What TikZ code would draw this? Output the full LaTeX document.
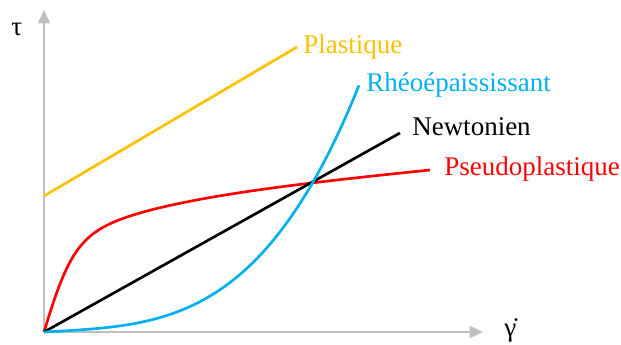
\documentclass[tikz,border=0pt]{standalone}
\usepackage{fontspec}
\setmainfont{LiberationSerif}[Extension=.ttf,UprightFont=*-Regular,BoldFont=*-Bold,ItalicFont=*-Italic,BoldItalicFont=*-BoldItalic]
\usetikzlibrary{arrows.meta}
\definecolor{axisgray}{RGB}{191,191,191}
\definecolor{plastcol}{RGB}{255,192,0}
\definecolor{rheocol}{RGB}{0,176,240}
\definecolor{pseudocol}{RGB}{255,0,0}
\begin{document}
\begin{tikzpicture}[x=0.75pt,y=-0.75pt,
  axis/.style={draw=axisgray,line width=1.1pt,-{Triangle[length=10pt,width=9pt]}},
  curve/.style={line width=2pt,line join=round},
  lbl/.style={anchor=base west,inner sep=0pt,font=\rmfamily\fontsize{20.25}{24}\selectfont},
  declare function={th(\t)=1-2/(exp(2*min(\t,4))+1);}]
\useasboundingbox (0,0) rectangle (621,344);
\coordinate (O) at (44,332);
\coordinate (ytip) at (44,10);
\coordinate (xtip) at (483,332);
\draw[axis] (O) -- (ytip);
\draw[axis] (O) -- (xtip);
% labels
\node[lbl] (tau) at (11,35) {τ};
\node[lbl] (gam) at (504,336) {γ̇};
\node[lbl,text=plastcol] (plast) at (303,53) {Plastique};
\node[lbl,text=rheocol] (rheo) at (366,91) {Rhéoépaississant};
\node[lbl] (newt) at (412,135) {Newtonien};
\node[lbl,text=pseudocol] (pseudo) at (444,175) {Pseudoplastique};
% curves
\coordinate (plastA) at (44,196);
\coordinate (plastB) at (297,47);
\draw[curve,plastcol] (plastA) -- (plastB);
\draw[curve,pseudocol] plot[domain=0:386,samples=160,smooth]
  ({44+\x},{332-(0.095*\x+80*th(\x/30)+46*(1-exp(-\x/90)))});
\coordinate (newtB) at (400,133);
\draw[curve,black] (O) -- (newtB);
\draw[curve,rheocol] (O) -- plot[domain=0.05:315,samples=150,smooth]
  ({44+\x},{332-(0.055*\x+135.2*(\x/269)^3.35)});
\end{tikzpicture}
\end{document}
